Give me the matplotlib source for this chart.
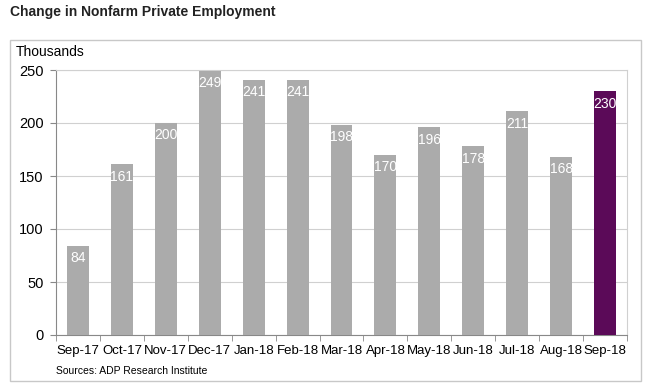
import matplotlib.pyplot as plt
import numpy as np
from matplotlib.patches import Rectangle

months = ['Sep-17', 'Oct-17', 'Nov-17', 'Dec-17', 'Jan-18', 'Feb-18', 'Mar-18',
          'Apr-18', 'May-18', 'Jun-18', 'Jul-18', 'Aug-18', 'Sep-18']
jobs = [84, 161, 200, 249, 241, 241, 198, 170, 196, 178, 211, 168, 230]
yticks = [0, 50, 100, 150, 200, 250]

plt.rcParams['font.family'] = ['Liberation Sans', 'DejaVu Sans']

fig = plt.figure(figsize=(6.62, 3.91), dpi=100)
fig.patches.append(Rectangle((10 / 662, 1 - 381 / 391), 631 / 662, 341 / 391,
                             transform=fig.transFigure, fill=False,
                             edgecolor='#c8c8c8', lw=1))
ax = fig.add_axes([56 / 662, 1 - 335 / 391, 571 / 662, 265 / 391])

x = np.arange(len(months))
colors = ['#ababab'] * (len(months) - 1) + ['#5b0a58']
ax.bar(x, jobs, width=0.5, color=colors, edgecolor='none', zorder=3)
for xi, v in zip(x, jobs):
    ax.text(xi, v - 5, str(v), ha='center', va='top', color='white', fontsize=10, zorder=4)

ax.set_xlim(-0.5, len(months) - 0.5)
ax.set_ylim(0, 250)
ax.set_yticks(yticks)
ax.set_xticks(x)
ax.set_xticklabels(months)
ax.set_xticks(np.arange(-0.5, len(months), 1), minor=True)
ax.tick_params(axis='x', which='major', length=0, labelsize=9.5, pad=7)
ax.tick_params(axis='x', which='minor', length=4, color='#888888', direction='out')
ax.tick_params(axis='y', length=4, color='#888888', labelsize=10.5, pad=5)
ax.grid(axis='y', color='#d0d0d0', lw=0.8, zorder=0)
for s in ['top', 'right']:
    ax.spines[s].set_color('#d0d0d0')
for s in ['left', 'bottom']:
    ax.spines[s].set_color('#888888')

fig.text(10 / 662, 1 - 12 / 391, 'Change in Nonfarm Private Employment', fontsize=10,
         fontweight='bold', color='#222222', va='center')
fig.text(16 / 662, 1 - 52 / 391, 'Thousands', fontsize=10, va='center')
fig.text(56 / 662, 1 - 371 / 391, 'Sources: ADP Research Institute', fontsize=7.5, va='center')

fig.savefig('out.png', dpi=100)
